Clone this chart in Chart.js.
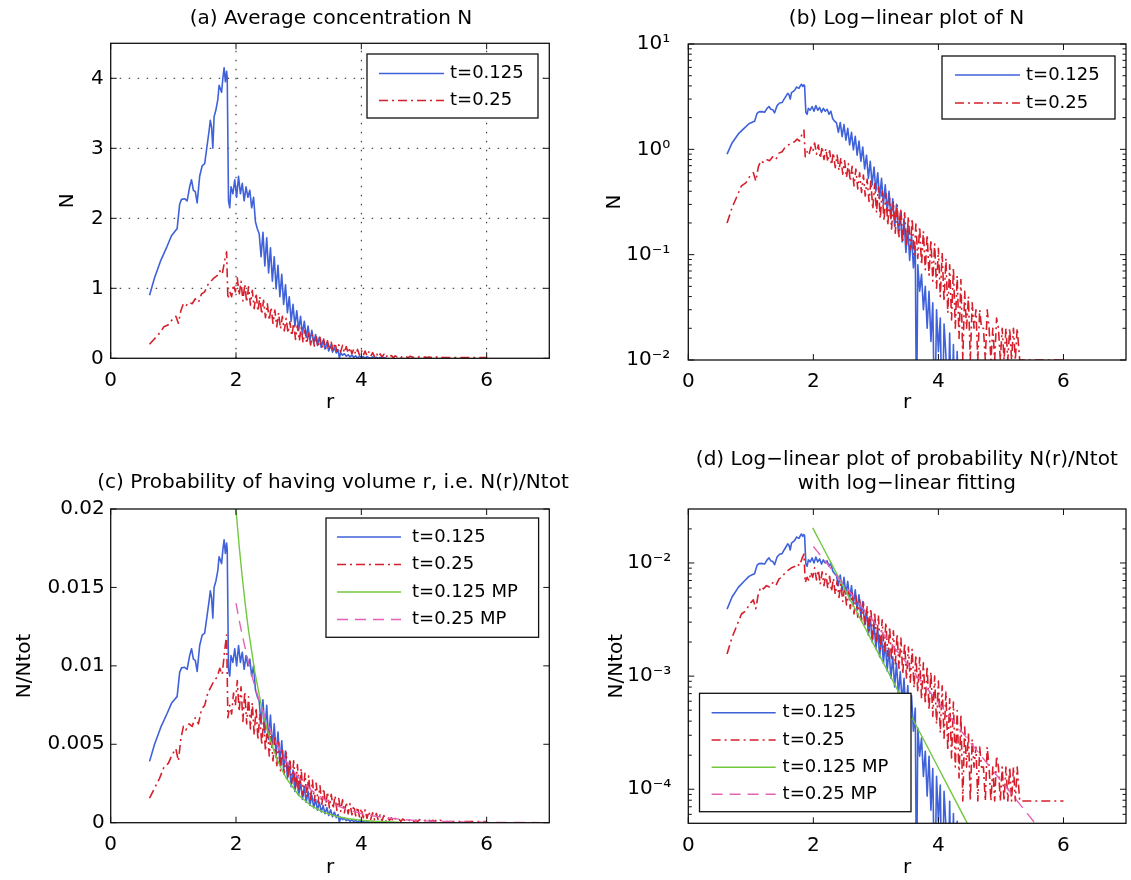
<!DOCTYPE html>
<html>
<head>
<meta charset="utf-8">
<title>Average concentration N</title>
<script src="https://cdn.jsdelivr.net/npm/chart.js@4.4.1/dist/chart.umd.min.js"></script>
<style>
  html, body { margin: 0; padding: 0; background: #fff; }
  #page { position: relative; width: 1131px; height: 880px; overflow: hidden; background: #fff; }
  #page canvas { position: absolute; }
</style>
</head>
<body>
<div id="page">
  <canvas id="chartA"></canvas>
  <canvas id="chartB"></canvas>
  <canvas id="chartC"></canvas>
  <canvas id="chartD"></canvas>
</div>
<script>
// ---- tick values and labels ----
const xTicks = [0, 2, 4, 6];
const yTicksA = [0, 1, 2, 3, 4];
const yTickLabelsA = ['0', '1', '2', '3', '4'];
const yTicksB = [0.01, 0.1, 1, 10];
const yTickLabelsB = ['10\u207B\u00B2', '10\u207B\u00B9', '10\u2070', '10\u00B9'];
const yTicksC = [0, 0.005, 0.01, 0.015, 0.02];
const yTickLabelsC = ['0', '0.005', '0.01', '0.015', '0.02'];
const yTicksD = [0.0001, 0.001, 0.01];
const yTickLabelsD = ['10\u207B\u2074', '10\u207B\u00B3', '10\u207B\u00B2'];
const seriesNames = ['t=0.125', 't=0.25', 't=0.125 MP', 't=0.25 MP'];

// ---- t=0.125 : r, N and N/Ntot ----
const rBlue = [
  0.62, 0.70, 0.80, 0.90, 0.97, 1.03, 1.06, 1.10, 1.13, 1.18,
  1.22, 1.26, 1.29, 1.32, 1.35, 1.38, 1.42, 1.46, 1.50, 1.53,
  1.57, 1.59, 1.61, 1.63, 1.65, 1.68, 1.71, 1.73, 1.75, 1.77,
  1.79, 1.81, 1.83, 1.85, 1.86, 1.88, 1.90, 1.92, 1.95, 1.98,
  2.01, 2.04, 2.07, 2.10, 2.13, 2.16, 2.19, 2.22, 2.25, 2.28,
  2.31, 2.34, 2.37, 2.40, 2.43, 2.46, 2.49, 2.52, 2.55, 2.58,
  2.61, 2.64, 2.67, 2.70, 2.73, 2.76, 2.79, 2.82, 2.85, 2.88,
  2.91, 2.94, 2.97, 3.00, 3.03, 3.06, 3.09, 3.12, 3.15, 3.18,
  3.21, 3.24, 3.27, 3.30, 3.33, 3.36, 3.39, 3.42, 3.45, 3.48,
  3.51, 3.54, 3.57, 3.60, 3.63, 3.65, 3.67, 3.70, 3.73, 3.76,
  3.79, 3.82, 3.85, 3.88, 3.91, 3.94, 3.97, 4.00, 4.03, 4.06,
  4.09, 4.12, 4.15, 4.18, 4.21, 4.24, 4.27, 4.30, 4.33, 4.36,
  4.40
];
const nBlue = [
  0.90, 1.15, 1.40, 1.60, 1.75, 1.82, 1.85, 2.20, 2.27, 2.28,
  2.25, 2.45, 2.55, 2.40, 2.38, 2.22, 2.60, 2.75, 2.78, 2.98,
  3.25, 3.40, 3.30, 3.00, 3.45, 3.55, 3.70, 3.90, 3.85, 3.80,
  4.00, 4.15, 3.95, 4.10, 4.00, 2.25, 2.15, 2.45, 2.35, 2.55,
  2.30, 2.60, 2.35, 2.50, 2.25, 2.45, 2.30, 2.40, 2.15, 2.30,
  1.95, 1.85, 1.78, 1.45, 1.80, 1.32, 1.72, 1.22, 1.58, 1.10,
  1.45, 0.99, 1.33, 0.88, 1.20, 0.77, 1.05, 0.65, 0.88, 0.53,
  0.77, 0.46, 0.68, 0.40, 0.60, 0.34, 0.53, 0.30, 0.46, 0.255,
  0.40, 0.22, 0.34, 0.185, 0.30, 0.158, 0.25, 0.132, 0.22, 0.105,
  0.19, 0.088, 0.155, 0.075, 0.12, 0.002, 0.08, 0.045, 0.065, 0.03,
  0.05, 0.02, 0.045, 0.015, 0.035, 0.002, 0.03, 0.012, 0.025, 0.002,
  0.022, 0.011, 0.002, 0.018, 0.002, 0.014, 0.002, 0.012, 0.002, 0.010,
  0.002
];
const pBlue = [
  0.00391, 0.00500, 0.00609, 0.00696, 0.00761, 0.00791, 0.00804, 0.00957, 0.00987, 0.00991,
  0.00978, 0.01065, 0.01109, 0.01043, 0.01035, 0.00965, 0.01130, 0.01196, 0.01209, 0.01296,
  0.01413, 0.01478, 0.01435, 0.01304, 0.01500, 0.01543, 0.01609, 0.01696, 0.01674, 0.01652,
  0.01739, 0.01804, 0.01717, 0.01783, 0.01739, 0.00978, 0.00935, 0.01065, 0.01022, 0.01109,
  0.01000, 0.01130, 0.01022, 0.01087, 0.00978, 0.01065, 0.01000, 0.01043, 0.00935, 0.01000,
  0.00848, 0.00804, 0.00774, 0.00630, 0.00783, 0.00574, 0.00748, 0.00530, 0.00687, 0.00478,
  0.00630, 0.00430, 0.00578, 0.00383, 0.00522, 0.00335, 0.00457, 0.00283, 0.00383, 0.00230,
  0.00335, 0.00200, 0.00296, 0.00174, 0.00261, 0.00148, 0.00230, 0.00130, 0.00200, 0.00111,
  0.00174, 0.000957, 0.00148, 0.000804, 0.00130, 0.000687, 0.00109, 0.000574, 0.000957, 0.000457,
  0.000826, 0.000383, 0.000674, 0.000326, 0.000522, 0.0000087, 0.000348, 0.000196, 0.000283, 0.000130,
  0.000217, 0.0000870, 0.000196, 0.0000652, 0.000152, 0.0000087, 0.000130, 0.0000522, 0.000109, 0.0000087,
  0.0000957, 0.0000478, 0.0000087, 0.0000783, 0.0000087, 0.0000609, 0.0000087, 0.0000522, 0.0000087, 0.0000435,
  0.0000087
];

// ---- t=0.25 : r, N and N/Ntot ----
const rRed = [
  0.62, 0.70, 0.78, 0.85, 0.92, 0.98, 1.04, 1.08, 1.12, 1.16,
  1.20, 1.25, 1.30, 1.35, 1.40, 1.45, 1.50, 1.55, 1.60, 1.65,
  1.70, 1.74, 1.78, 1.82, 1.85, 1.87, 1.90, 1.93, 1.96, 1.99,
  2.02, 2.05, 2.08, 2.11, 2.14, 2.17, 2.20, 2.23, 2.26, 2.29,
  2.32, 2.35, 2.38, 2.41, 2.44, 2.47, 2.50, 2.53, 2.56, 2.59,
  2.62, 2.65, 2.68, 2.71, 2.74, 2.77, 2.80, 2.83, 2.86, 2.89,
  2.92, 2.95, 2.98, 3.01, 3.04, 3.07, 3.10, 3.13, 3.16, 3.19,
  3.22, 3.25, 3.28, 3.31, 3.34, 3.37, 3.40, 3.43, 3.46, 3.49,
  3.52, 3.55, 3.58, 3.61, 3.64, 3.67, 3.70, 3.73, 3.76, 3.79,
  3.82, 3.85, 3.88, 3.91, 3.94, 3.97, 4.00, 4.03, 4.06, 4.09,
  4.12, 4.15, 4.18, 4.21, 4.24, 4.27, 4.30, 4.33, 4.36, 4.39,
  4.42, 4.45, 4.48, 4.51, 4.54, 4.57, 4.60, 4.63, 4.66, 4.69,
  4.72, 4.75, 4.78, 4.81, 4.84, 4.87, 4.90, 4.93, 4.96, 4.99,
  5.02, 5.05, 5.08, 5.11, 5.14, 5.17, 5.20, 5.23, 5.26, 5.30,
  5.60, 6.00
];
const nRed = [
  0.20, 0.28, 0.36, 0.45, 0.48, 0.55, 0.60, 0.50, 0.68, 0.78,
  0.75, 0.80, 0.78, 0.85, 0.80, 0.92, 0.95, 1.05, 1.10, 1.15,
  1.18, 1.25, 1.20, 1.40, 1.52, 0.85, 0.95, 0.88, 1.05, 0.95,
  1.15, 0.90, 1.10, 0.82, 1.06, 0.80, 1.02, 0.76, 0.97, 0.71,
  0.93, 0.67, 0.88, 0.63, 0.83, 0.58, 0.78, 0.54, 0.73, 0.50,
  0.69, 0.45, 0.65, 0.42, 0.60, 0.39, 0.57, 0.36, 0.52, 0.32,
  0.50, 0.27, 0.47, 0.25, 0.44, 0.22, 0.40, 0.21, 0.38, 0.19,
  0.345, 0.175, 0.32, 0.16, 0.30, 0.148, 0.275, 0.132, 0.25, 0.12,
  0.23, 0.112, 0.22, 0.10, 0.195, 0.092, 0.185, 0.08, 0.167, 0.072,
  0.155, 0.064, 0.138, 0.056, 0.127, 0.048, 0.115, 0.04, 0.104, 0.036,
  0.092, 0.028, 0.08, 0.024, 0.075, 0.02, 0.063, 0.016, 0.058, 0.01,
  0.045, 0.02, 0.04, 0.01, 0.035, 0.02, 0.03, 0.01, 0.03, 0.02,
  0.02, 0.01, 0.03, 0.02, 0.01, 0.02, 0.01, 0.025, 0.02, 0.01,
  0.02, 0.01, 0.02, 0.01, 0.02, 0.01, 0.02, 0.01, 0.02, 0.01,
  0.01, 0.01
];
const pRed = [
  0.00157, 0.00220, 0.00283, 0.00354, 0.00378, 0.00433, 0.00472, 0.00394, 0.00535, 0.00614,
  0.00591, 0.00630, 0.00614, 0.00669, 0.00630, 0.00724, 0.00748, 0.00827, 0.00866, 0.00906,
  0.00929, 0.00984, 0.00945, 0.01102, 0.01197, 0.00669, 0.00748, 0.00693, 0.00827, 0.00748,
  0.00906, 0.00709, 0.00866, 0.00646, 0.00835, 0.00630, 0.00803, 0.00598, 0.00764, 0.00559,
  0.00732, 0.00528, 0.00693, 0.00496, 0.00654, 0.00457, 0.00614, 0.00425, 0.00575, 0.00394,
  0.00543, 0.00354, 0.00512, 0.00331, 0.00472, 0.00307, 0.00449, 0.00283, 0.00409, 0.00252,
  0.00394, 0.00213, 0.00370, 0.00197, 0.00346, 0.00173, 0.00315, 0.00165, 0.00299, 0.00150,
  0.00272, 0.00138, 0.00252, 0.00126, 0.00236, 0.00117, 0.00217, 0.00104, 0.00197, 0.000945,
  0.00181, 0.000882, 0.00173, 0.000787, 0.00154, 0.000724, 0.00146, 0.000630, 0.00131, 0.000567,
  0.00122, 0.000504, 0.00109, 0.000441, 0.00100, 0.000378, 0.000906, 0.000315, 0.000819, 0.000283,
  0.000724, 0.000220, 0.000630, 0.000189, 0.000591, 0.000157, 0.000496, 0.000126, 0.000457, 0.0000787,
  0.000354, 0.000157, 0.000315, 0.0000787, 0.000276, 0.000157, 0.000236, 0.0000787, 0.000236, 0.000157,
  0.000157, 0.0000787, 0.000236, 0.000157, 0.0000787, 0.000157, 0.0000787, 0.000197, 0.000157, 0.0000787,
  0.000157, 0.0000787, 0.000157, 0.0000787, 0.000157, 0.0000787, 0.000157, 0.0000787, 0.000157, 0.0000787,
  0.0000787, 0.0000787
];

// ---- MP fits (N/Ntot) ----
const rMp125 = [1.99, 2.05, 2.10, 2.15, 2.20, 2.30, 2.40, 2.50, 2.60, 2.70,
  2.80, 3.00, 3.20, 3.40, 3.60, 3.80, 4.00, 4.20, 4.40, 4.60];
const pMp125 = [0.0204, 0.01765, 0.01563, 0.01384, 0.01225, 0.00961, 0.00754, 0.00591, 0.00463, 0.00363,
  0.00285, 0.00175, 0.00108, 0.000663, 0.000407, 0.000251, 0.000154, 0.0000947, 0.0000582, 0.0000358];
const rMp25 = [2.00, 2.05, 2.10, 2.20, 2.30, 2.40, 2.50, 2.60, 2.80, 3.00,
  3.20, 3.40, 3.60, 3.80, 4.00, 4.20, 4.40, 4.60, 4.80, 5.00,
  5.20, 5.40, 5.60, 6.00, 7.00];
const pMp25 = [0.0140, 0.01292, 0.01194, 0.01019, 0.00869, 0.00741, 0.00632, 0.00539, 0.00393, 0.00286,
  0.00208, 0.00151, 0.00110, 0.000802, 0.000583, 0.000425, 0.000309, 0.000225, 0.000164, 0.000119,
  0.0000867, 0.0000631, 0.0000459, 0.0000243, 0.00000497];

const FONT = 'DejaVu Sans';
const TICK_LEN = 6;
const MINOR_LEN = 3.5;

const STYLE = {
  blue: { borderColor: '#3f62da', borderWidth: 1.6 },
  red: { borderColor: '#d61f2b', borderWidth: 1.6, borderDash: [9, 4, 2, 4] },
  green: { borderColor: '#72c83e', borderWidth: 1.4 },
  pink: { borderColor: '#e462b6', borderWidth: 1.4, borderDash: [11, 7] }
};

Chart.defaults.font.family = FONT;
Chart.defaults.font.size = 20;
Chart.defaults.color = '#000';

function pts(xs, ys) {
  return xs.map((x, i) => ({ x: x, y: ys[i] }));
}

function lineSet(label, xs, ys, style, order) {
  return Object.assign({
    label: label,
    data: pts(xs, ys),
    order: order,
    pointRadius: 0,
    fill: false,
    tension: 0,
    borderJoinStyle: 'round'
  }, style);
}

// draws the matlab-like frame, inner ticks, dotted grid, legend box and title
function framePlugin(p) {
  const dx = p.left, dy = p.top;
  return {
    id: 'matlabFrame',
    beforeDatasetsDraw(chart) {
      if (!p.grid) return;
      const ctx = chart.ctx, a = chart.chartArea;
      const xs = chart.scales.x, ys = chart.scales.y;
      ctx.save();
      ctx.strokeStyle = '#222';
      ctx.lineWidth = 1;
      ctx.setLineDash([1.5, 7.5]);
      ctx.beginPath();
      xs.ticks.forEach(t => {
        const px = xs.getPixelForValue(t.value);
        if (px > a.left + 2 && px < a.right - 2) { ctx.moveTo(px, a.bottom); ctx.lineTo(px, a.top); }
      });
      ys.ticks.forEach(t => {
        const py = ys.getPixelForValue(t.value);
        if (py > a.top + 2 && py < a.bottom - 2) { ctx.moveTo(a.left, py); ctx.lineTo(a.right, py); }
      });
      ctx.stroke();
      ctx.restore();
    },
    afterDatasetsDraw(chart) {
      const ctx = chart.ctx, a = chart.chartArea;
      const xs = chart.scales.x, ys = chart.scales.y;
      ctx.save();
      ctx.strokeStyle = '#111';
      ctx.lineWidth = 1.3;
      ctx.strokeRect(a.left, a.top, a.right - a.left, a.bottom - a.top);
      ctx.lineWidth = 1;
      ctx.beginPath();
      xs.ticks.forEach(t => {
        const px = xs.getPixelForValue(t.value);
        ctx.moveTo(px, a.bottom); ctx.lineTo(px, a.bottom - TICK_LEN);
        ctx.moveTo(px, a.top); ctx.lineTo(px, a.top + TICK_LEN);
      });
      ys.ticks.forEach(t => {
        const py = ys.getPixelForValue(t.value);
        ctx.moveTo(a.left, py); ctx.lineTo(a.left + TICK_LEN, py);
        ctx.moveTo(a.right, py); ctx.lineTo(a.right - TICK_LEN, py);
      });
      if (p.yType === 'logarithmic') {
        const k0 = Math.floor(Math.log10(p.yMin)), k1 = Math.ceil(Math.log10(p.yMax));
        for (let k = k0; k <= k1; k++) {
          for (let m = 2; m <= 9; m++) {
            const v = m * Math.pow(10, k);
            if (v <= p.yMin || v >= p.yMax) continue;
            const py = ys.getPixelForValue(v);
            ctx.moveTo(a.left, py); ctx.lineTo(a.left + MINOR_LEN, py);
            ctx.moveTo(a.right, py); ctx.lineTo(a.right - MINOR_LEN, py);
          }
        }
      }
      ctx.stroke();

      // legend
      const lg = p.legend;
      const bx = lg.box[0] - dx, by = lg.box[1] - dy;
      const bw = lg.box[2] - lg.box[0], bh = lg.box[3] - lg.box[1];
      ctx.fillStyle = '#fff';
      ctx.fillRect(bx, by, bw, bh);
      ctx.strokeStyle = '#111';
      ctx.lineWidth = 1.3;
      ctx.strokeRect(bx, by, bw, bh);
      ctx.font = '18px "' + FONT + '"';
      ctx.textBaseline = 'middle';
      ctx.textAlign = 'left';
      chart.data.datasets.forEach((ds, i) => {
        const y = lg.rows[i] - dy;
        ctx.save();
        ctx.strokeStyle = ds.borderColor;
        ctx.lineWidth = ds.borderWidth;
        ctx.setLineDash(ds.borderDash || []);
        ctx.beginPath();
        ctx.moveTo(lg.line[0] - dx, y);
        ctx.lineTo(lg.line[1] - dx, y);
        ctx.stroke();
        ctx.restore();
        ctx.fillStyle = '#000';
        ctx.fillText(ds.label, lg.textX - dx, y);
      });
      ctx.restore();
    },
    afterDraw(chart) {
      const ctx = chart.ctx;
      ctx.save();
      ctx.font = '20px "' + FONT + '"';
      ctx.fillStyle = '#000';
      ctx.textAlign = 'center';
      ctx.textBaseline = 'middle';
      p.title.forEach((line, i) => {
        ctx.fillText(line, p.titleX - dx, p.titleY - dy + i * 24.5);
      });
      ctx.restore();
    }
  };
}

function makeChart(p) {
  const canvas = document.getElementById(p.id);
  canvas.width = p.width;
  canvas.height = p.height;
  canvas.style.left = p.left + 'px';
  canvas.style.top = p.top + 'px';
  const yAxisWidth = p.area.left - p.left;
  const xAxisHeight = p.top + p.height - p.area.bottom;
  const titleFont = { family: FONT, size: 20, lineHeight: 1.2 };

  return new Chart(canvas.getContext('2d'), {
    type: 'line',
    data: { datasets: p.datasets },
    options: {
      responsive: false,
      animation: false,
      devicePixelRatio: 1,
      layout: {
        padding: { left: 0, top: p.area.top - p.top, right: p.left + p.width - p.area.right, bottom: 0 }
      },
      plugins: {
        legend: { display: false },
        tooltip: { enabled: false },
        title: { display: false }
      },
      scales: {
        x: {
          type: 'linear',
          min: 0,
          max: 7,
          bounds: 'data',
          afterBuildTicks: s => { s.ticks = xTicks.map(v => ({ value: v })); },
          afterFit: s => { s.height = xAxisHeight; },
          ticks: { padding: 10, maxRotation: 0, autoSkip: false, font: { family: FONT, size: 20 }, color: '#000' },
          grid: { display: false, drawTicks: false },
          border: { display: false },
          title: {
            display: true, text: 'r', color: '#000', font: titleFont,
            padding: { top: 0, bottom: p.top + p.height - p.xTitleY - 12 }
          }
        },
        y: {
          type: p.yType,
          min: p.yMin,
          max: p.yMax,
          bounds: 'data',
          afterBuildTicks: s => { s.ticks = p.yTicks.map(v => ({ value: v })); },
          afterFit: s => { s.width = yAxisWidth; },
          ticks: {
            padding: p.yPad, autoSkip: false, font: { family: FONT, size: 20 }, color: '#000',
            callback: (v, i) => p.yLabels[i]
          },
          grid: { display: false, drawTicks: false },
          border: { display: false },
          title: {
            display: true, text: p.yTitle, color: '#000', font: titleFont,
            padding: { top: p.yTitleX - p.left - 12, bottom: 0 }
          }
        }
      }
    },
    plugins: [framePlugin(p)]
  });
}

const panels = [
  {
    id: 'chartA', left: 0, top: 0, width: 600, height: 440,
    area: { left: 110.7, top: 43.3, right: 549.3, bottom: 358.3 },
    yType: 'linear', yMin: 0, yMax: 4.5, yTicks: yTicksA, yLabels: yTickLabelsA, yPad: 7,
    yTitle: 'N', yTitleX: 67.7, xTitleY: 403, grid: true,
    title: ['(a) Average concentration N'], titleX: 331, titleY: 18.5,
    legend: { box: [367, 54, 538, 118], line: [379, 444], textX: 450, rows: [73.5, 100.5] },
    datasets: [
      lineSet(seriesNames[0], rBlue, nBlue, STYLE.blue, 4),
      lineSet(seriesNames[1], rRed, nRed, STYLE.red, 3)
    ]
  },
  {
    id: 'chartB', left: 580, top: 0, width: 551, height: 440,
    area: { left: 688.3, top: 44, right: 1126, bottom: 360 },
    yType: 'logarithmic', yMin: 0.01, yMax: 10, yTicks: yTicksB, yLabels: yTickLabelsB, yPad: 18,
    yTitle: 'N', yTitleX: 614.8, xTitleY: 403, grid: false,
    title: ['(b) Log\u2212linear plot of N'], titleX: 906.5, titleY: 18.5,
    legend: { box: [942, 56, 1115, 119], line: [955, 1020], textX: 1026, rows: [75, 103] },
    datasets: [
      lineSet(seriesNames[0], rBlue, nBlue, STYLE.blue, 4),
      lineSet(seriesNames[1], rRed, nRed, STYLE.red, 3)
    ]
  },
  {
    id: 'chartC', left: 0, top: 440, width: 600, height: 440,
    area: { left: 110.7, top: 509, right: 549.3, bottom: 822.7 },
    yType: 'linear', yMin: 0, yMax: 0.02, yTicks: yTicksC, yLabels: yTickLabelsC, yPad: 6,
    yTitle: 'N/Ntot', yTitleX: 25, xTitleY: 868, grid: false,
    title: ['(c) Probability of having volume r, i.e. N(r)/Ntot'], titleX: 333, titleY: 482.3,
    legend: { box: [326, 518, 538.6, 637.3], line: [337, 401], textX: 412, rows: [537, 564.5, 592, 619.5] },
    datasets: [
      lineSet(seriesNames[0], rBlue, pBlue, STYLE.blue, 4),
      lineSet(seriesNames[1], rRed, pRed, STYLE.red, 3),
      lineSet(seriesNames[2], rMp125, pMp125, STYLE.green, 2),
      lineSet(seriesNames[3], rMp25, pMp25, STYLE.pink, 1)
    ]
  },
  {
    id: 'chartD', left: 580, top: 440, width: 551, height: 440,
    area: { left: 688.3, top: 509, right: 1126, bottom: 823.3 },
    yType: 'logarithmic', yMin: 0.00005, yMax: 0.03, yTicks: yTicksD, yLabels: yTickLabelsD, yPad: 17,
    yTitle: 'N/Ntot', yTitleX: 617, xTitleY: 868, grid: false,
    title: ['(d) Log\u2212linear plot of probability N(r)/Ntot', 'with log\u2212linear fitting'], titleX: 906.8, titleY: 459.3,
    legend: { box: [699.5, 693.3, 911, 811.7], line: [711.6, 775.7], textX: 782.6, rows: [712.7, 740, 767.3, 794.3] },
    datasets: [
      lineSet(seriesNames[0], rBlue, pBlue, STYLE.blue, 4),
      lineSet(seriesNames[1], rRed, pRed, STYLE.red, 3),
      lineSet(seriesNames[2], rMp125, pMp125, STYLE.green, 2),
      lineSet(seriesNames[3], rMp25, pMp25, STYLE.pink, 1)
    ]
  }
];

panels.forEach(makeChart);
</script>
</body>
</html>
